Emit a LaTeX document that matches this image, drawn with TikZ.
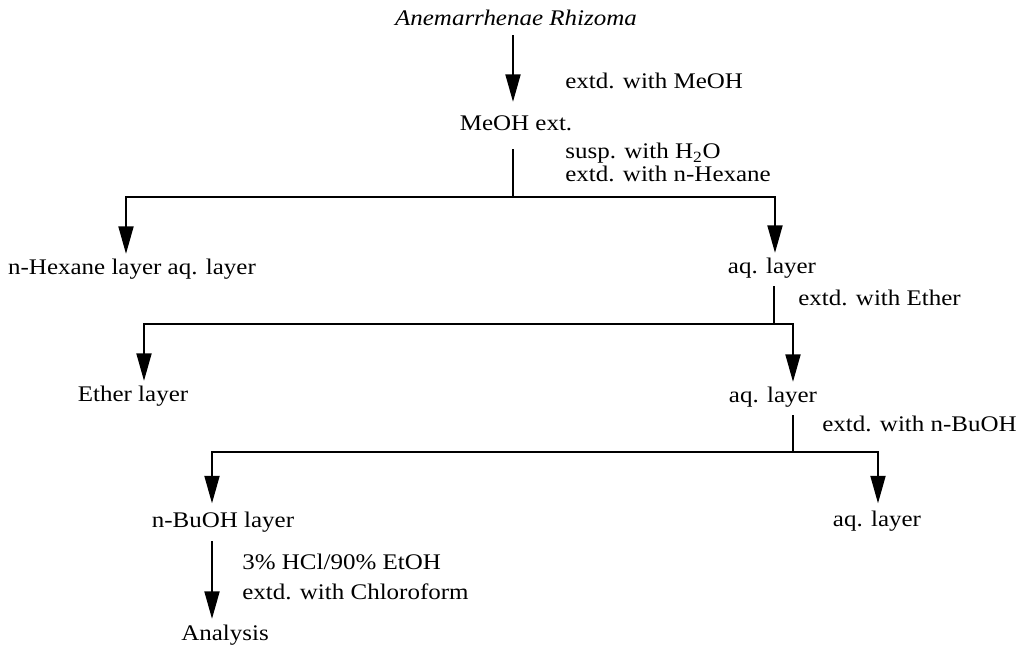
\documentclass[tikz,border=0pt]{standalone}
\usepackage{fontspec}
\setmainfont{Liberation Serif}[FakeStretch=1.12]
\usetikzlibrary{arrows.meta,positioning,calc}
\newcommand\flowfont{\fontsize{12.7}{14}\selectfont}
\tikzset{
  stage/.style={inner sep=0pt, text height=0.7em, text depth=0.22em, anchor=base},
  note/.style={inner sep=0pt, anchor=base west},
  arr/.style={-{Triangle[length=5.5mm,width=3mm]}, line width=1.1pt, shorten >=1.7mm},
  link/.style={line width=1.1pt, shorten <=1.6mm},
}
\begin{document}
\begin{tikzpicture}[x=0.02cm, y=-0.02cm, font=\flowfont]
\useasboundingbox (0,0) rectangle (1022,645);
% stages of the extraction
\node[stage, font=\flowfont\itshape] (rhizoma) at (516,26) {Anemarrhenae Rhizoma};
\node[stage] (meoh) at (516,131) {MeOH ext.};
\node[stage] (hexane) at (132,275) {n-Hexane layer aq. layer};
\node[stage] (aq1) at (772,274) {aq. layer};
\node[stage] (ether) at (133,402) {Ether layer};
\node[stage] (aq2) at (773,403) {aq. layer};
\node[stage] (bu) at (223,527) {n-BuOH layer};
\node[stage] (aq3) at (877,526) {aq. layer};
\node[stage] (analysis) at (225,640) {Analysis};
% treatment notes
\node[note] (lmeoh) at (565,89) {extd. with MeOH};
\node[note] (lsusp) at (565,159) {susp. with H\textsubscript{2}O};
\node[note] (lhex) at (565,182) {extd. with n-Hexane};
\node[note] (lether) at (798,306) {extd. with Ether};
\node[note] (lbuoh) at (822,432) {extd. with n-BuOH};
\node[note] (lhcl) at (242,569) {3\% HCl/90\% EtOH};
\node[note] (lchl) at (242,599) {extd. with Chloroform};
% splits
\coordinate (j1) at (513,197);
\coordinate (j2) at (774,324);
\coordinate (j3) at (793,452);
\draw[arr, shorten <=1mm, shorten >=3.3mm] ([xshift=-0.06cm]rhizoma.south) -- ([xshift=-0.06cm]meoh.north);
\draw[link, shorten <=2.8mm] ([xshift=-0.06cm]meoh.south) -- (j1);
\draw[arr] (j1) -| ([xshift=-0.12cm]hexane.north);
\draw[arr] (j1) -| ([xshift=0.06cm]aq1.north);
\draw[link] ([xshift=0.04cm]aq1.south) -- (j2);
\draw[arr] (j2) -| ([xshift=0.22cm]ether.north);
\draw[arr] (j2) -| ([xshift=0.4cm]aq2.north);
\draw[link] ([xshift=0.4cm]aq2.south) -- (j3);
\draw[arr, shorten >=2.2mm] (j3) -| ([xshift=-0.22cm]bu.north);
\draw[arr, shorten >=2mm] (j3) -| ([xshift=0.02cm]aq3.north);
\draw[arr, shorten <=2mm] ([xshift=-0.22cm]bu.south) -- ([xshift=-0.26cm]analysis.north);
\end{tikzpicture}
\end{document}
